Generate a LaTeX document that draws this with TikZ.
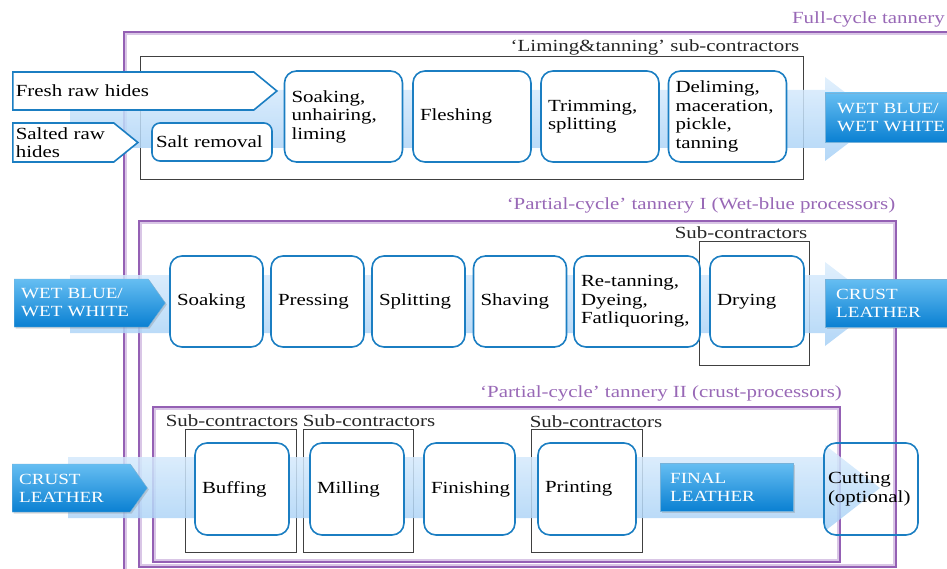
\documentclass[tikz,border=0pt]{standalone}
\usepackage{fontspec}
\setmainfont{Liberation Serif}[FakeStretch=1.23]
\usetikzlibrary{shapes.symbols,shadows}

\definecolor{procblue}{HTML}{1B7EC2}
\definecolor{bandtop}{HTML}{DCEDFC}
\definecolor{bandbot}{HTML}{A6D0F6}
\definecolor{flowtop}{HTML}{66BEF2}
\definecolor{flowbot}{HTML}{0A80D2}
\definecolor{tpurple}{HTML}{9460B4}
\definecolor{tlight}{HTML}{D9C6E6}
\definecolor{ttext}{HTML}{9868B6}
\newcommand\diagfont{\fontsize{17pt}{18.5pt}\selectfont}
\newcommand\flowfont{\fontsize{15.5pt}{18pt}\selectfont}

\begin{document}
\begin{tikzpicture}[x=1pt, y=-1pt,
    proc/.style={draw=procblue, line width=1.6pt, rounded corners=12pt, fill=white, align=left, font=\diagfont, inner xsep=7pt, minimum height=91pt},
    inlet/.style={signal, signal to=east, draw=procblue, line width=1.6pt, fill=white, align=left, font=\diagfont, inner xsep=3pt, anchor=west},
    inflow/.style={signal, signal to=east, draw=procblue!60, top color=flowtop, bottom color=flowbot, text=white, align=left, font=\flowfont, anchor=west, drop shadow={opacity=.3, shadow xshift=1.5pt, shadow yshift=-1.5pt}},
    outflow/.style={rectangle, draw=procblue!60, top color=flowtop, bottom color=flowbot, text=white, align=left, font=\flowfont, anchor=west, minimum height=48pt, drop shadow={opacity=.3, shadow xshift=1.5pt, shadow yshift=-1.5pt}},
    band/.style={top color=bandtop, bottom color=bandbot, opacity=.85},
    tannery/.style={draw=tpurple, line width=2pt},
    tanninner/.style={draw=tlight, line width=1.6pt},
    subbox/.style={draw=black!75, line width=1pt},
    tanlabel/.style={text=ttext, font=\diagfont, inner sep=1pt},
    sublabel/.style={text=black!85, font=\diagfont, inner sep=1pt}
]
\useasboundingbox (0,0) rectangle (947,569);
\clip (0,0) rectangle (947,569);

% tannery frames
\draw[tannery] (124,32) rectangle (990,620);
\draw[tanninner] (126,34) rectangle (988,618);
\draw[tannery] (139,221) rectangle (896,567);
\draw[tanninner] (141,223) rectangle (894,565);
\draw[tannery] (153,407) rectangle (840,562);
\draw[tanninner] (155,409) rectangle (838,560);

% sub-contractor boxes
\draw[subbox] (140,57) rectangle (803,180);
\draw[subbox] (699,242) rectangle (809,365);
\draw[subbox] (185,429) rectangle (296,552);
\draw[subbox] (303,429) rectangle (413,552);
\draw[subbox] (531,429) rectangle (642,552);

% flow bands
\shade[band] (70,90) -- (825,90) -- (825,77) -- (880,119) -- (825,161) -- (825,148) -- (70,148) -- cycle;
\shade[band] (70,275) -- (825,275) -- (825,262) -- (880,304) -- (825,346) -- (825,333) -- (70,333) -- cycle;
\shade[band] (68,457) -- (825,457) -- (825,445) -- (880,488) -- (825,531) -- (825,518) -- (68,518) -- cycle;

% row 1: full cycle
\node[inlet, text width=235pt, minimum height=38pt, signal pointer angle=79] (fresh) at (12,91) {Fresh raw hides};
\node[inlet, text width=95pt, minimum height=39pt, signal pointer angle=78] (salted) at (12,142.5) {Salted raw\\hides};
\node[proc, text width=112pt, inner xsep=4pt, minimum height=38pt, rounded corners=8pt] (salt) at (212,142) {Salt removal};
\node[proc, text width=104pt] (soak) at (343.5,116.5) {Soaking,\\unhairing,\\liming};
\node[proc, text width=104pt] (flesh) at (472,116.5) {Fleshing};
\node[proc, text width=104pt] (trim) at (600,116.5) {Trimming,\\splitting};
\node[proc, text width=104pt] (delime) at (727.5,116.5) {Deliming,\\maceration,\\pickle,\\tanning};
\node[outflow, text width=120pt, inner xsep=12pt, minimum height=49pt] (wetout) at (825,117.5) {WET BLUE/\\WET WHITE};

% row 2: partial cycle I
\node[inflow, text width=120pt, inner xsep=7pt, minimum height=48pt, signal pointer angle=109] (wetin) at (14,303) {WET BLUE/\\WET WHITE};
\node[proc, text width=79pt] (soak2) at (216.5,301.5) {Soaking};
\node[proc, text width=79pt] (press) at (317.5,301.5) {Pressing};
\node[proc, text width=79pt] (split) at (418.5,301.5) {Splitting};
\node[proc, text width=79pt] (shave) at (520,301.5) {Shaving};
\node[proc, text width=112pt] (retan) at (637,301.5) {Re-tanning,\\Dyeing,\\Fatliquoring,};
\node[proc, text width=80pt] (dry) at (757,301.5) {Drying};
\node[outflow, text width=110pt, inner xsep=11pt] (crustout) at (825,303) {CRUST\\LEATHER};

% row 3: partial cycle II
\node[inflow, text width=104pt, inner xsep=7pt, minimum height=48pt, signal pointer angle=109] (crustin) at (12,488) {CRUST\\LEATHER};
\node[proc, text width=80pt, minimum height=92pt] (buff) at (242,489) {Buffing};
\node[proc, text width=80pt, minimum height=92pt] (mill) at (357,489) {Milling};
\node[proc, text width=77pt, minimum height=92pt] (finish) at (469.5,489) {Finishing};
\node[proc, text width=84pt, minimum height=92pt] (print) at (587,489) {Printing};
\node[outflow, text width=113pt, inner xsep=10pt] (final) at (660,487) {FINAL\\LEATHER};
\node[proc, text width=86pt, minimum height=92pt, fill=none, inner xsep=4pt] (cut) at (871,489) {Cutting\\(optional)};

% labels
\node[tanlabel, anchor=east] (fulllab) at (946,19) {Full-cycle tannery};
\node[tanlabel] (p1lab) at (701,205) {`Partial-cycle' tannery I (Wet-blue processors)};
\node[tanlabel] (p2lab) at (661,393) {`Partial-cycle' tannery II (crust-processors)};
\node[sublabel] (limlab) at (655,47) {`Liming\&tanning' sub-contractors};
\node[sublabel] (drylab) at (741,233) {Sub-contractors};
\node[sublabel] (bufflab) at (232,421) {Sub-contractors};
\node[sublabel] (milllab) at (369,421) {Sub-contractors};
\node[sublabel] (printlab) at (596,422) {Sub-contractors};
\end{tikzpicture}
\end{document}
